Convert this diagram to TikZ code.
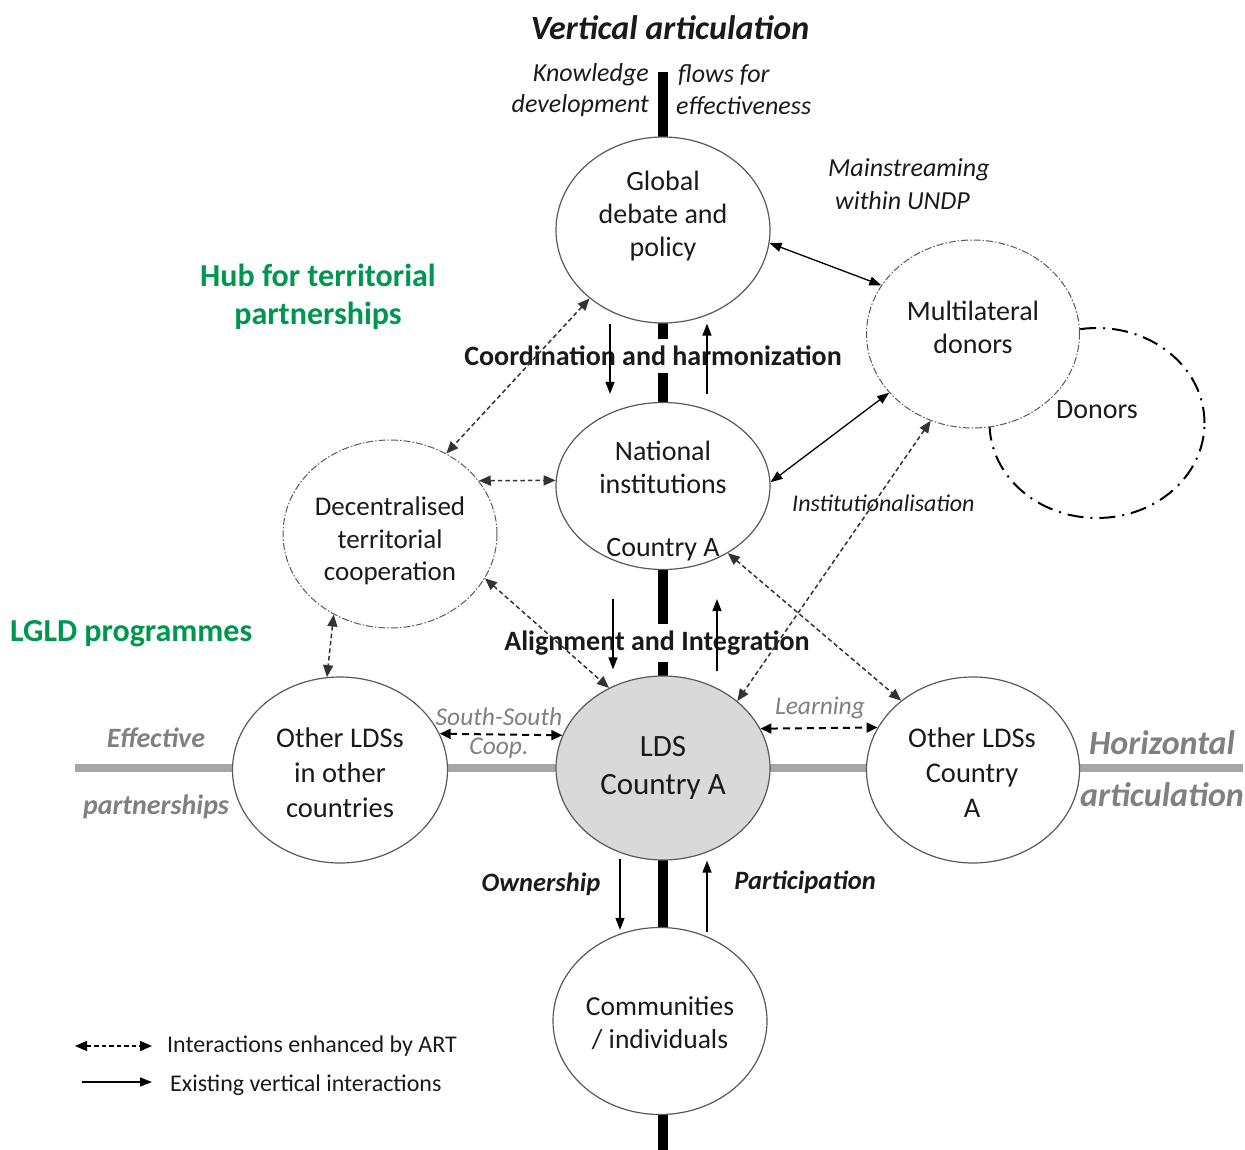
\documentclass[tikz,border=0pt]{standalone}
\usepackage{fontspec}
\setmainfont{Carlito}
\usetikzlibrary{shapes.geometric,arrows.meta,calc}
\definecolor{txt}{HTML}{1A1A1A}
\definecolor{edge}{HTML}{595959}
\definecolor{greyline}{HTML}{A6A6A6}
\definecolor{greytxt}{HTML}{808080}
\definecolor{hubgreen}{HTML}{00964F}
\definecolor{ldsfill}{HTML}{D9D9D9}
\definecolor{dashc}{HTML}{333333}
\begin{document}
\begin{tikzpicture}[x=1pt,y=-1pt,
  ell/.style={ellipse, draw=edge, line width=1.2pt, fill=white, inner sep=0pt, minimum width=214pt, minimum height=186pt},
  dell/.style={ell, dash pattern=on 7pt off 2pt on 1.5pt off 2pt, line width=1pt},
  lbl/.style={font=\fontsize{28}{33}\selectfont, text=txt, align=center, inner sep=0pt},
  bigtxt/.style={font=\fontsize{31}{38}\selectfont, text=txt, align=center, inner sep=0pt},
  itl/.style={font=\fontsize{26}{31}\selectfont\itshape, text=txt, inner sep=0pt},
  greyit/.style={font=\fontsize{25.5}{31}\selectfont\itshape, text=greytxt, inner sep=0pt},
  greybi/.style={font=\fontsize{28}{31}\selectfont\bfseries\itshape, text=greytxt, inner sep=0pt},
  greyhz/.style={font=\fontsize{34}{40}\selectfont\bfseries\itshape, text=greytxt, inner sep=0pt},
  greenlbl/.style={font=\fontsize{32}{38}\selectfont\bfseries, text=hubgreen, align=center, inner sep=0pt},
  boldlbl/.style={font=\fontsize{28}{30}\selectfont\bfseries, text=txt, fill=white, inner xsep=0pt, inner ysep=7pt},
  bilbl/.style={font=\fontsize{26.5}{30}\selectfont\bfseries\itshape, text=txt, inner sep=0pt},
  legtxt/.style={font=\fontsize{24}{26}\selectfont, text=txt, anchor=west, inner sep=0pt},
  solidarr/.style={line width=1.5pt, black, -{Triangle[length=12pt,width=9pt]}},
  soliddbl/.style={line width=1.3pt, black, {Triangle[length=12pt,width=9pt]}-{Triangle[length=12pt,width=9pt]}},
  dasharr/.style={line width=1.5pt, dashc, dash pattern=on 4.5pt off 3pt, {Triangle[length=12pt,width=10pt]}-{Triangle[length=12pt,width=10pt]}},
  dashbig/.style={line width=2pt, black, dash pattern=on 7pt off 5pt, {Triangle[length=11pt,width=10pt]}-{Triangle[length=11pt,width=10pt]}}
]
\useasboundingbox (0,0) rectangle (1245,1150);

% axes
\coordinate (vtop) at (663,72);
\coordinate (vbot) at (663,1150);
\coordinate (hleft) at (75,768);
\coordinate (hright) at (1243,768);
\draw[line width=10pt, black] (vtop) -- (vbot);
\draw[line width=8pt, greyline] (hleft) -- (hright);

% donors (behind multilateral)
\node[ellipse, draw=black, line width=2pt, dash pattern=on 16pt off 7pt on 2pt off 7pt, inner sep=0pt, minimum width=215pt, minimum height=190pt] (don) at (1097,423) {};

% ellipses
\node[ell] (glob) at (663,230) {};
\node[ell, minimum height=167pt] (nat) at (663,486) {};
\node[ell, fill=ldsfill, minimum height=184pt] (lds) at (663,768) {};
\node[ell, minimum height=187pt] (comm) at (660,1021) {};
\node[ell, minimum width=215pt] (oth) at (340,770) {};
\node[ell, minimum width=213pt] (otha) at (973,770) {};
\node[dell, minimum height=188pt] (dec) at (390,534) {};
\node[dell, minimum width=213pt, minimum height=188pt] (mult) at (973,334) {};

% ellipse texts
\node[lbl] (tglob) at (663,216) {Global\\debate and\\policy};
\node[lbl] (tnat) at (663,467) {National\\institutions};
\node[lbl] (tnat2) at (663,550) {Country A};
\node[bigtxt] (tlds) at (663,768) {LDS\\Country A};
\node[lbl, font=\fontsize{27.5}{33}\selectfont] (tcomm) at (660,1023) {Communities\\/ individuals};
\node[lbl, font=\fontsize{28.5}{35}\selectfont] (toth) at (340,773) {Other LDSs\\in other\\countries};
\node[lbl, font=\fontsize{28.5}{35}\selectfont] (totha) at (972,773) {Other LDSs\\Country\\A};
\node[lbl, font=\fontsize{27}{32.5}\selectfont] (tdec) at (390,541) {Decentralised\\territorial\\cooperation};
\node[lbl] (tmult) at (973,327) {Multilateral\\donors};
\node[lbl] (tdon) at (1097,410) {Donors};

% titles and labels
\node[font=\fontsize{34}{40}\selectfont\bfseries\itshape, text=txt, inner sep=0pt] (vert) at (670,28) {Vertical articulation};
\node[itl, anchor=east] (know) at (649,75) {Knowledge};
\node[itl, anchor=east] (devl) at (649,106) {development};
\node[itl, anchor=west] (flows) at (678,75) {flows for};
\node[itl, anchor=west] (effv) at (676,106) {effectiveness};
\node[itl, anchor=west] (mains) at (828,170) {Mainstreaming};
\node[itl, anchor=west] (undp) at (835,201) {within UNDP};
\node[greenlbl] (hub) at (318,297) {Hub for territorial\\partnerships};
\node[greenlbl, anchor=west] (lgld) at (10,634) {LGLD programmes};
\node[boldlbl] (coord) at (653,356) {Coordination and harmonization};
\node[boldlbl] (align) at (657,643) {Alignment and Integration};
\node[itl, font=\fontsize{24}{28}\selectfont\itshape, anchor=west] (inst) at (792,503) {Institutionalisation};
\node[greyit] (ss) at (499,717) {South-South};
\node[greyit] (coop) at (499,748) {Coop.};
\node[greyit] (learn) at (820,708) {Learning};
\node[greybi] (effe) at (156,738) {Effective};
\node[greybi] (partn) at (156,807) {partnerships};
\node[greyhz] (horiz) at (1162,743) {Horizontal};
\node[greyhz] (artic) at (1162,795) {articulation};
\node[bilbl] (own) at (541,884) {Ownership};
\node[bilbl] (part) at (805,882) {Participation};

% solid vertical arrows
\draw[solidarr] ([xshift=-53pt]glob.south) -- ([xshift=-53pt,yshift=8pt]nat.north);
\draw[solidarr] ([xshift=44pt,yshift=8pt]nat.north) -- ([xshift=44pt]glob.south);
\draw[solidarr] ([xshift=-50pt,yshift=-29pt]nat.south) -- ([xshift=-50pt,yshift=6pt]lds.north);
\draw[solidarr] ([xshift=54pt,yshift=4pt]lds.north) -- ([xshift=54pt,yshift=-29pt]nat.south);
\draw[solidarr] ([xshift=-43pt,yshift=2pt]lds.south) -- ([xshift=-40pt,yshift=-3pt]comm.north);
\draw[solidarr] ([xshift=47pt,yshift=-5pt]comm.north) -- ([xshift=44pt]lds.south);

% solid double arrows
\draw[soliddbl] (glob.-7) -- (mult.152);
\draw[soliddbl] (nat.2) -- (mult.215);

% dashed arrows
\draw[dasharr] (glob.223) -- (dec.55);
\draw[dasharr] (dec.31) -- (nat.177);
\draw[dasharr] (dec.-25) -- (lds.124);
\draw[dasharr] (dec.235) -- (oth.98);
\draw[dasharr] (nat.-46) -- (otha.136);
\draw[dasharr] (mult.244) -- (lds.42);
\draw[dashbig] (oth.20) -- (lds.162);
\draw[dashbig] (lds.22) -- (otha.156);

% legend
\coordinate (l1a) at (75,1046);
\coordinate (l1b) at (152,1046);
\coordinate (l2a) at (82,1082);
\coordinate (l2b) at (152,1082);
\draw[dasharr, black] (l1a) -- (l1b);
\draw[solidarr] (l2a) -- (l2b);
\node[legtxt] (leg1) at (167,1046) {Interactions enhanced by ART};
\node[legtxt] (leg2) at (170,1085) {Existing vertical interactions};
\end{tikzpicture}
\end{document}
